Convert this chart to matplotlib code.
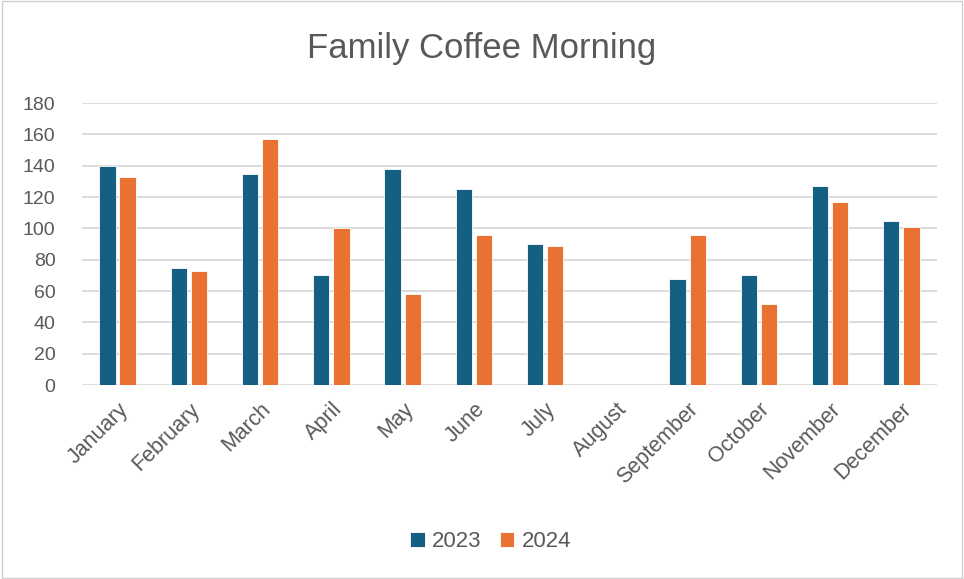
import matplotlib
matplotlib.use("Agg")
import matplotlib.pyplot as plt
import numpy as np
from matplotlib.patches import Rectangle

months = ["January", "February", "March", "April", "May", "June", "July",
          "August", "September", "October", "November", "December"]
series_2023 = [140, 75, 135, 70, 138, 125, 90, np.nan, 68, 70, 127, 105]
series_2024 = [133, 73, 157, 100, 58, 96, 89, np.nan, 96, 52, 117, 101]
yticks = [0, 20, 40, 60, 80, 100, 120, 140, 160, 180]

c23 = "#156082"
c24 = "#E97132"
txt = "#595959"

plt.rcParams['font.family'] = ['Liberation Sans', 'DejaVu Sans']

fig = plt.figure(figsize=(9.64, 5.79), dpi=100)
fig.patches.append(Rectangle((0.002, 0.002), 0.996, 0.996, transform=fig.transFigure,
                             fill=False, edgecolor="#D0D0D0", linewidth=1.0))
ax = fig.add_axes([0.085, 0.335, 0.887, 0.487])

x = np.arange(len(months))
w = 0.23
off = 0.142
ax.bar(x - off, series_2023, w, color=c23, edgecolor="white", linewidth=0.6, label="2023", zorder=3)
ax.bar(x + off, series_2024, w, color=c24, edgecolor="white", linewidth=0.6, label="2024", zorder=3)

ax.set_xlim(-0.5, len(months) - 0.5)
ax.set_ylim(0, 180)
ax.set_yticks(yticks)
ax.set_yticklabels([str(v) for v in yticks], fontsize=14, color=txt)
ax.set_xticks(x)
ax.set_xticklabels(months, rotation=45, ha="right", rotation_mode="anchor", fontsize=15.5, color=txt)
ax.tick_params(axis="y", length=0, pad=19)
ax.tick_params(axis="x", length=0, pad=10)
ax.grid(axis="y", color="#D9D9D9", linewidth=1.3, zorder=0)
for s in ax.spines.values():
    s.set_visible(False)

fig.text(0.5, 0.917, "Family Coffee Morning", ha="center", va="center", fontsize=25, color=txt)

leg = fig.legend(loc="center", bbox_to_anchor=(0.509, 0.064), ncol=2, frameon=False,
                 fontsize=16, handlelength=0.65, handleheight=0.65, handletextpad=0.35,
                 columnspacing=0.8)
for t in leg.get_texts():
    t.set_color(txt)

fig.savefig("out.png", dpi=100, facecolor="white")
